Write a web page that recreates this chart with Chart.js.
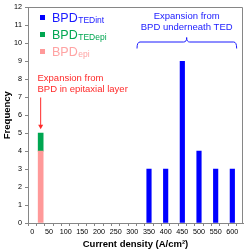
<!DOCTYPE html>
<html>
<head>
<meta charset="utf-8">
<script src="https://cdn.jsdelivr.net/npm/chart.js@4.4.1/dist/chart.umd.min.js"></script>
<style>
  html, body { margin: 0; padding: 0; background: #fff; }
  #c { display: block; }
</style>
</head>
<body>
<canvas id="c" width="245" height="252"></canvas>
<script>
// current density bins (A/cm2) and counts per BPD type
const tedIntDensity = [350, 400, 450, 500, 550, 600];
const tedIntCounts = [3, 3, 9, 4, 3, 3];
const epiDensity = [25];
const epiCounts = [4];
const tedEpiDensity = [25];
const tedEpiCounts = [1];
// x tick marks every 25, labels every 50
const xTickValues = [0, 25, 50, 75, 100, 125, 150, 175, 200, 225, 250, 275, 300,
  325, 350, 375, 400, 425, 450, 475, 500, 525, 550, 575, 600, 625];
const xLabelValues = [0, 50, 100, 150, 200, 250, 300, 350, 400, 450, 500, 550, 600];

const BLUE = '#0000ff';
const GREEN = '#00a651';
const PINK = '#ff9999';
const AXIS = '#868686';
const FONT = '"Liberation Sans", Arial, sans-serif';

const pts = (xs, ys) => xs.map((x, i) => ({ x, y: ys[i] }));

// legend entries drawn inside the plot, as in the original figure
const legendItems = [
  { main: 'BPD', sub: 'TEDint', color: BLUE, text: '#1a1aff' },
  { main: 'BPD', sub: 'TEDepi', color: GREEN, text: '#00a651' },
  { main: 'BPD', sub: 'epi', color: PINK, text: '#ffa3a3' }
];

const framePlugin = {
  id: 'frame',
  afterDraw(chart) {
    const { ctx, chartArea: a } = chart;
    const xs = chart.scales.x;
    ctx.save();
    ctx.strokeStyle = AXIS;
    ctx.lineWidth = 1;
    ctx.beginPath();
    ctx.moveTo(Math.round(a.left) + 0.5, Math.round(a.top) + 0.5);
    ctx.lineTo(Math.round(a.right) - 0.5, Math.round(a.top) + 0.5);
    ctx.lineTo(Math.round(a.right) - 0.5, Math.round(a.bottom));
    ctx.stroke();

    // x tick labels, placed by the x scale
    ctx.fillStyle = '#000';
    ctx.font = '7.2px ' + FONT;
    ctx.textAlign = 'center';
    ctx.textBaseline = 'middle';
    xLabelValues.forEach(v => ctx.fillText(String(v), xs.getPixelForValue(v), a.bottom + 9.5));
    ctx.restore();
  }
};

const notesPlugin = {
  id: 'notes',
  afterDatasetsDraw(chart) {
    const { ctx } = chart;
    const xs = chart.scales.x, ys = chart.scales.y;
    ctx.save();

    // legend
    legendItems.forEach((it, i) => {
      const cy = 17.5 + i * 17;
      ctx.fillStyle = it.color;
      ctx.fillRect(40, cy - 2.5, 5, 5);
      ctx.fillStyle = it.text;
      ctx.textBaseline = 'alphabetic';
      ctx.textAlign = 'left';
      ctx.font = '12.5px ' + FONT;
      ctx.fillText(it.main, 52, cy + 4.5);
      const w = ctx.measureText(it.main).width;
      ctx.font = '8.5px ' + FONT;
      ctx.fillText(it.sub, 52 + w + 0.5, cy + 5.5);
    });

    // blue note + brace
    ctx.fillStyle = '#1a1aff';
    ctx.font = '9.5px ' + FONT;
    ctx.textAlign = 'center';
    ctx.textBaseline = 'middle';
    const bx = xs.getPixelForValue(463);
    ctx.fillText('Expansion from', bx, 16);
    ctx.fillText('BPD underneath TED', bx, 27);

    const x1 = xs.getPixelForValue(314), x2 = xs.getPixelForValue(613);
    const top = 42, bot = 48.5, r = 3;
    ctx.strokeStyle = '#1a1aff';
    ctx.lineWidth = 1;
    ctx.beginPath();
    ctx.moveTo(x1, bot);
    ctx.quadraticCurveTo(x1, top, x1 + r, top);
    ctx.lineTo(bx - r, top);
    ctx.quadraticCurveTo(bx, top, bx, top - 4.5);
    ctx.quadraticCurveTo(bx, top, bx + r, top);
    ctx.lineTo(x2 - r, top);
    ctx.quadraticCurveTo(x2, top, x2, bot);
    ctx.stroke();

    // red note + arrow
    ctx.fillStyle = '#ff2a2a';
    ctx.textAlign = 'left';
    ctx.fillText('Expansion from', 37.5, 78);
    ctx.fillText('BPD in epitaxial layer', 37.5, 89);

    const ax = xs.getPixelForValue(epiDensity[0]);
    const tipY = ys.getPixelForValue(epiCounts[0] + tedEpiCounts[0]) - 4;
    ctx.strokeStyle = '#ff2a2a';
    ctx.beginPath();
    ctx.moveTo(ax, 97.5);
    ctx.lineTo(ax, tipY - 4);
    ctx.stroke();
    ctx.beginPath();
    ctx.moveTo(ax - 2.5, tipY - 4.5);
    ctx.lineTo(ax + 2.5, tipY - 4.5);
    ctx.lineTo(ax, tipY);
    ctx.closePath();
    ctx.fill();

    ctx.restore();
  }
};

new Chart(document.getElementById('c'), {
  type: 'bar',
  data: {
    datasets: [
      { label: 'BPDepi', data: pts(epiDensity, epiCounts), backgroundColor: PINK, barThickness: 5, grouped: false },
      { label: 'BPDTEDepi', data: pts(tedEpiDensity, tedEpiCounts), backgroundColor: GREEN, barThickness: 5, grouped: false },
      { label: 'BPDTEDint', data: pts(tedIntDensity, tedIntCounts), backgroundColor: BLUE, barThickness: 4.5, grouped: false }
    ]
  },
  options: {
    responsive: false,
    animation: false,
    devicePixelRatio: 1,
    layout: { padding: { top: 5, right: 2, left: 0, bottom: 0 } },
    plugins: { legend: { display: false }, tooltip: { enabled: false } },
    scales: {
      x: {
        type: 'linear',
        offset: false,
        min: -13,
        max: 632,
        afterFit: s => { s.height = 29; },
        afterBuildTicks: s => { s.ticks = xTickValues.map(v => ({ value: v })); },
        ticks: { display: false, autoSkip: false },
        grid: { drawOnChartArea: false, drawTicks: true, tickLength: 3, color: AXIS },
        border: { display: true, color: AXIS },
        title: {
          display: true,
          text: 'Current density (A/cm²)',
          color: '#000',
          padding: { top: 0, bottom: 2 },
          font: { family: FONT, size: 9.5, weight: 'bold' }
        }
      },
      y: {
        stacked: true,
        min: 0,
        max: 12,
        afterFit: s => { s.width = 28; },
        ticks: {
          stepSize: 1,
          padding: 3,
          color: '#000',
          font: { family: FONT, size: 7.2 }
        },
        grid: { drawOnChartArea: false, drawTicks: true, tickLength: 3, color: AXIS },
        border: { display: true, color: AXIS },
        title: {
          display: true,
          text: 'Frequency',
          color: '#000',
          padding: { top: 2, bottom: 0 },
          font: { family: FONT, size: 9.5, weight: 'bold' }
        }
      }
    }
  },
  plugins: [framePlugin, notesPlugin]
});
</script>
</body>
</html>
